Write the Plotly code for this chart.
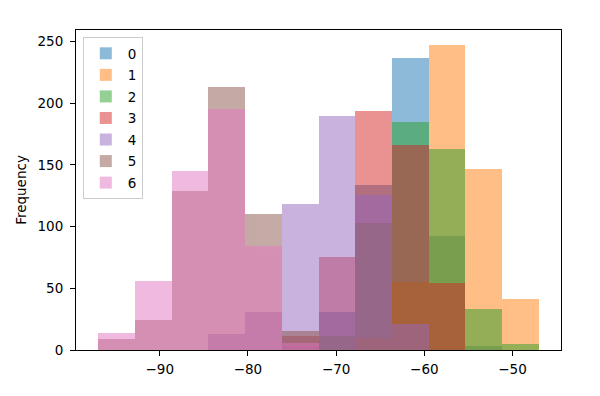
import numpy as np
import plotly.graph_objects as go

# Histogram bin edges (12 equal bins)
bin_start = -97.0
bin_end = -47.0
n_bins = 12

series_names = ["0", "1", "2", "3", "4", "5", "6"]
counts_0 = [0, 0, 0, 0, 0, 3, 31, 134, 237, 92, 3, 0]
counts_1 = [0, 0, 0, 0, 0, 0, 0, 10, 55, 247, 147, 41]
counts_2 = [0, 0, 0, 0, 0, 0, 11, 103, 185, 163, 33, 5]
counts_3 = [0, 0, 0, 0, 0, 11, 75, 194, 166, 54, 0, 0]
counts_4 = [0, 0, 0, 13, 31, 118, 190, 126, 21, 0, 0, 0]
counts_5 = [9, 24, 129, 213, 110, 15, 0, 0, 0, 0, 0, 0]
counts_6 = [14, 56, 145, 195, 84, 6, 0, 0, 0, 0, 0, 0]
all_counts = [counts_0, counts_1, counts_2, counts_3, counts_4, counts_5, counts_6]

colors = ["#1f77b4", "#ff7f0e", "#2ca02c", "#d62728", "#9467bd", "#8c564b", "#e377c2"]

edges = np.linspace(bin_start, bin_end, n_bins + 1)
centers = (edges[:-1] + edges[1:]) / 2
width = edges[1] - edges[0]

FONT = "DejaVu Sans"
FS = 13.5

fig = go.Figure()
for name, cnt, col in zip(series_names, all_counts, colors):
    fig.add_trace(go.Bar(
        x=centers, y=cnt, width=width, name=name,
        marker=dict(color=col, line=dict(width=0)),
        opacity=0.5,
        legendgroup=name,
    ))

span = bin_end - bin_start
ymax = max(max(c) for c in all_counts)

axis_common = dict(
    showline=True, linecolor="black", linewidth=1, mirror=True,
    ticks="outside", ticklen=5, tickcolor="black", tickwidth=1,
    showgrid=False, zeroline=False,
    tickfont=dict(family=FONT, size=FS, color="black"),
)

# page body has an 8px default margin, so the figure is 8px smaller
fig.update_layout(
    width=592, height=388,
    margin=dict(l=68, r=39, t=22, b=46),
    paper_bgcolor="white", plot_bgcolor="white",
    barmode="overlay", bargap=0,
    showlegend=True,
    legend=dict(
        x=0.014, y=0.978, xanchor="left", yanchor="top",
        bgcolor="rgba(255,255,255,0.8)", bordercolor="#cccccc", borderwidth=1,
        font=dict(family=FONT, size=FS, color="black"),
        tracegroupgap=1, itemwidth=34,
    ),
    xaxis=dict(range=[bin_start - 0.05 * span, bin_end + 0.05 * span],
               tickvals=[-90, -80, -70, -60, -50],
               ticktext=["\u221290", "\u221280", "\u221270", "\u221260", "\u221250"],
               ticklabelstandoff=2,
               **axis_common),
    yaxis=dict(range=[0, ymax * 1.05], tickvals=[0, 50, 100, 150, 200, 250],
               ticklabelstandoff=4,
               title=dict(text="Frequency", font=dict(family=FONT, size=FS, color="black"), standoff=7),
               **axis_common),
)

fig.write_html("out.html")
